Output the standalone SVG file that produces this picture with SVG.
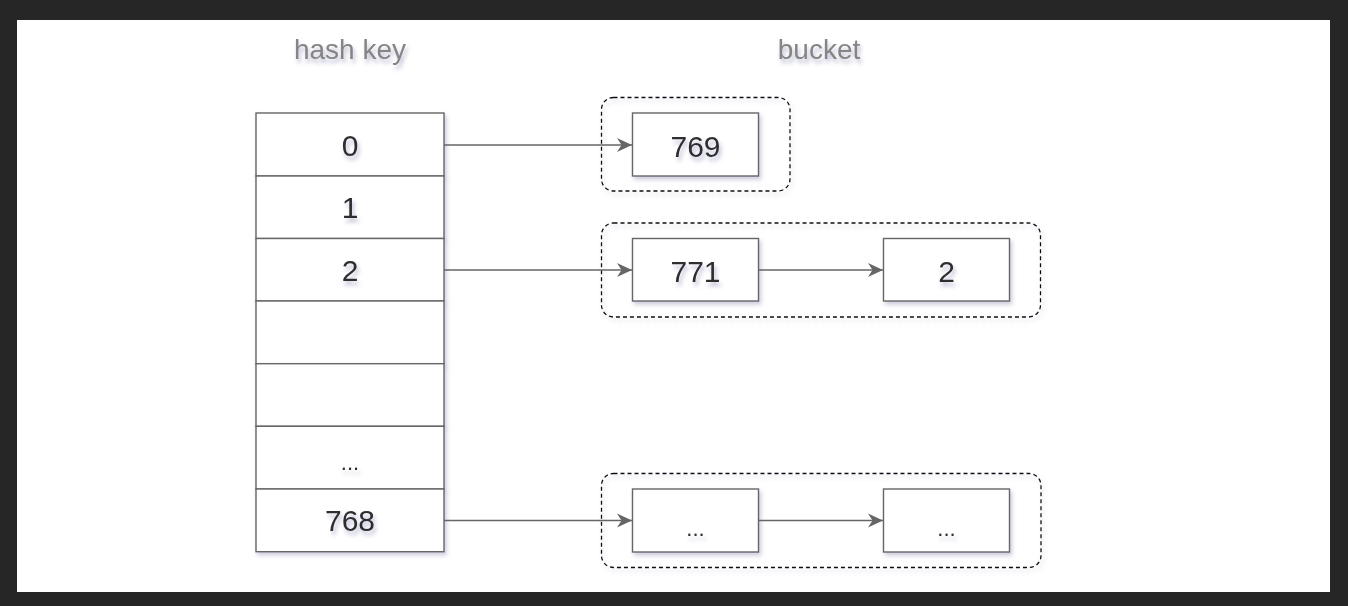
<svg xmlns="http://www.w3.org/2000/svg" width="1348" height="606" viewBox="0 0 1348 606">
  <defs>
    <filter id="sh" x="-20%" y="-20%" width="150%" height="160%">
      <feDropShadow dx="2" dy="3" stdDeviation="2" flood-color="#7070a0" flood-opacity="0.35"/>
    </filter>
    <filter id="tsh" x="-20%" y="-30%" width="150%" height="180%">
      <feDropShadow dx="2" dy="4" stdDeviation="2.2" flood-color="#6a6aa0" flood-opacity="0.45"/>
    </filter>
    <marker id="arr" markerUnits="userSpaceOnUse" markerWidth="18" markerHeight="18" refX="15" refY="9" orient="auto">
      <path d="M0,2 L15,9 L0,16 L4.5,9 Z" fill="#666666"/>
    </marker>
  </defs>
  <style>
    .cell { fill: #ffffff; stroke: #666666; stroke-width: 1.4; filter: url(#sh); }
    .bucket { fill: none; stroke: #111111; stroke-width: 1.3; stroke-dasharray: 4 3; filter: url(#sh); }
    .lbl { font-family: "Liberation Sans", Arial, sans-serif; font-size: 30px; fill: #2e2e2e; text-anchor: middle; filter: url(#tsh); }
    .dots { font-family: "Liberation Sans", Arial, sans-serif; font-size: 22px; fill: #2e2e2e; text-anchor: middle; filter: url(#tsh); }
    .head { font-family: "Liberation Sans", Arial, sans-serif; font-size: 28px; fill: #858585; text-anchor: middle; filter: url(#tsh); }
    .conn { fill: none; stroke: #666666; stroke-width: 1.4; marker-end: url(#arr); }
  </style>

  <rect x="0" y="0" width="1348" height="606" fill="#262626"/>
  <rect x="17" y="20" width="1313" height="572" fill="#ffffff"/>

  <g id="titles">
    <text class="head" x="350" y="59">hash key</text>
    <text class="head" x="819" y="59">bucket</text>
  </g>

  <g id="hash-table">
    <g id="key-0"><rect class="cell" x="256" y="113" width="188" height="63"/><text class="lbl" x="350" y="156">0</text></g>
    <g id="key-1"><rect class="cell" x="256" y="176" width="188" height="62.5"/><text class="lbl" x="350" y="218">1</text></g>
    <g id="key-2"><rect class="cell" x="256" y="238.5" width="188" height="62.5"/><text class="lbl" x="350" y="281">2</text></g>
    <g id="key-3"><rect class="cell" x="256" y="301" width="188" height="62.7"/></g>
    <g id="key-4"><rect class="cell" x="256" y="363.7" width="188" height="62.6"/></g>
    <g id="key-dots"><rect class="cell" x="256" y="426.3" width="188" height="62.7"/><text class="dots" x="350" y="470">...</text></g>
    <g id="key-768"><rect class="cell" x="256" y="489" width="188" height="62.7"/><text class="lbl" x="350" y="531">768</text></g>
  </g>

  <g id="bucket-0">
    <rect class="bucket" x="601.5" y="97.5" width="188.5" height="93.5" rx="12" ry="12"/>
    <g id="node-769"><rect class="cell" x="632.5" y="113" width="126" height="63"/><text class="lbl" x="695.5" y="157">769</text></g>
  </g>

  <g id="bucket-2">
    <rect class="bucket" x="601.5" y="223" width="439" height="94" rx="12" ry="12"/>
    <g id="node-771"><rect class="cell" x="632.5" y="238.5" width="126" height="62.5"/><text class="lbl" x="695.5" y="282">771</text></g>
    <g id="node-2"><rect class="cell" x="883.5" y="238.5" width="126" height="62.5"/><text class="lbl" x="946.5" y="282">2</text></g>
  </g>

  <g id="bucket-768">
    <rect class="bucket" x="601.5" y="473.5" width="439.5" height="94" rx="12" ry="12"/>
    <g id="node-dots-a"><rect class="cell" x="632.5" y="489" width="126" height="63"/><text class="dots" x="695.5" y="536">...</text></g>
    <g id="node-dots-b"><rect class="cell" x="883.5" y="489" width="126" height="63"/><text class="dots" x="946.5" y="536">...</text></g>
  </g>

  <g id="connectors">
    <line class="conn" x1="444" y1="145" x2="632" y2="145"/>
    <line class="conn" x1="444" y1="270" x2="632" y2="270"/>
    <line class="conn" x1="758.5" y1="270" x2="883" y2="270"/>
    <line class="conn" x1="444" y1="520.5" x2="632" y2="520.5"/>
    <line class="conn" x1="758.5" y1="520.5" x2="883" y2="520.5"/>
  </g>
</svg>
